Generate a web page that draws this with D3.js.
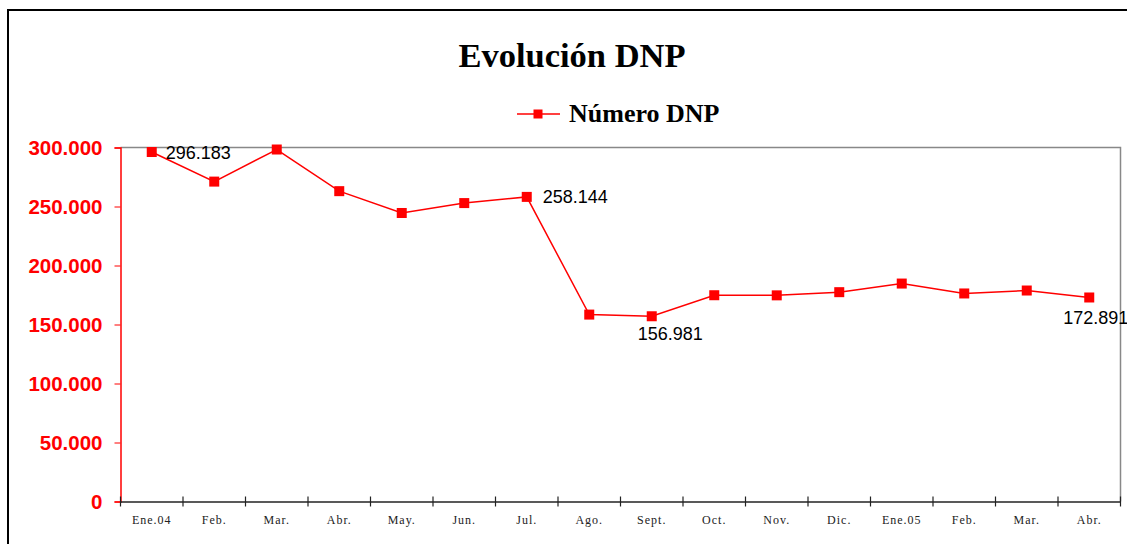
<!DOCTYPE html>
<html>
<head>
<meta charset="utf-8">
<script src="https://cdn.jsdelivr.net/npm/d3@7"></script>
<style>
  body { margin: 0; background: #fff; overflow: hidden; }
</style>
</head>
<body>
<script>
// months shown on the x axis
var months = ["Ene.04", "Feb.", "Mar.", "Abr.", "May.", "Jun.", "Jul.", "Ago.",
              "Sept.", "Oct.", "Nov.", "Dic.", "Ene.05", "Feb.", "Mar.", "Abr."];
// Número DNP (labelled ones are exact)
var dnpValues = [296183, 271100, 298300, 263000, 244500, 252900, 258144, 158400,
                 156981, 174800, 174700, 177400, 184700, 176300, 178800, 172891];
// which points carry a data label
var labelIndex = [0, 6, 8, 15];
var yTicks = [0, 50000, 100000, 150000, 200000, 250000, 300000];

var svg = d3.select("body").append("svg")
    .attr("width", 1127)
    .attr("height", 544);

// outer chart border (runs off the picture on the right and bottom)
svg.append("rect")
    .attr("x", 8).attr("y", 10)
    .attr("width", 1140).attr("height", 560)
    .attr("fill", "#fff")
    .attr("stroke", "#000")
    .attr("stroke-width", 2);

var plotL = 120.5, plotR = 1120.5, plotT = 147.5, plotB = 501.5;

var x = d3.scaleBand()
    .domain(d3.range(months.length))
    .range([plotL, plotR]);

var y = d3.scaleLinear()
    .domain([0, 300000])
    .range([plotB, plotT]);

// plot area frame (gray top and right)
svg.append("path")
    .attr("d", "M" + plotL + "," + plotT + "H" + plotR + "V" + plotB)
    .attr("fill", "none")
    .attr("stroke", "#888")
    .attr("stroke-width", 1.5);

// title
svg.append("text")
    .attr("x", 572).attr("y", 67)
    .attr("text-anchor", "middle")
    .style("font-family", "'Liberation Serif', 'Times New Roman', serif")
    .style("font-weight", "bold")
    .style("font-size", "34.5px")
    .text("Evolución DNP");

// legend
var legend = svg.append("g");
legend.append("line")
    .attr("x1", 517).attr("x2", 560)
    .attr("y1", 114).attr("y2", 114)
    .style("stroke", "red")
    .style("stroke-width", 1.5);
legend.append("rect")
    .attr("x", 533.5).attr("y", 109.5)
    .attr("width", 9).attr("height", 9)
    .attr("fill", "red");
legend.append("text")
    .attr("x", 569).attr("y", 122)
    .style("font-family", "'Liberation Serif', 'Times New Roman', serif")
    .style("font-weight", "bold")
    .style("font-size", "26px")
    .text("Número DNP");

// y axis
var yAxis = d3.axisLeft(y)
    .tickValues(yTicks)
    .tickSize(6)
    .tickPadding(12)
    .tickFormat(function (d) {
        return d === 0 ? "0" : d3.format(",")(d).replace(/,/g, ".");
    });
var yAxisGroup = svg.append("g")
    .attr("transform", "translate(" + plotL + ",0)")
    .call(yAxis);
yAxisGroup.select(".domain").attr("stroke", "red").attr("stroke-width", 1.5);
yAxisGroup.selectAll(".tick line").attr("stroke", "red");
yAxisGroup.selectAll(".tick text")
    .attr("fill", "red")
    .attr("dy", "0.35em")
    .style("font-family", "'Liberation Sans', Arial, sans-serif")
    .style("font-weight", "bold")
    .style("font-size", "20.5px");

// x axis: ticks between categories
var xAxis = d3.axisBottom(x)
    .tickFormat(function (i) { return months[i]; })
    .tickSize(0)
    .tickPadding(14);
var xAxisGroup = svg.append("g")
    .attr("transform", "translate(0," + plotB + ")")
    .call(xAxis);
xAxisGroup.select(".domain").attr("stroke", "#222").attr("stroke-width", 1.5);
xAxisGroup.selectAll(".tick text")
    .attr("fill", "#222")
    .style("font-family", "'Liberation Serif', 'Times New Roman', serif")
    .style("font-size", "12px")
    .style("letter-spacing", "1px");

svg.append("g").selectAll("line")
    .data(d3.range(months.length + 1))
    .enter()
    .append("line")
    .attr("x1", function (i) { return plotL + i * x.step(); })
    .attr("x2", function (i) { return plotL + i * x.step(); })
    .attr("y1", plotB - 5)
    .attr("y2", plotB + 5)
    .attr("stroke", "#222")
    .attr("stroke-width", 1.2);

// the series
var cx = function (d, i) { return x(i) + x.bandwidth() / 2; };

svg.append("path")
    .datum(dnpValues)
    .attr("fill", "none")
    .attr("stroke", "red")
    .attr("stroke-width", 1.5)
    .attr("d", d3.line()
        .x(cx)
        .y(function (d) { return y(d); }));

svg.selectAll("rect.pt")
    .data(dnpValues)
    .enter()
    .append("rect")
    .attr("class", "pt")
    .attr("x", function (d, i) { return cx(d, i) - 5; })
    .attr("y", function (d) { return y(d) - 5; })
    .attr("width", 10)
    .attr("height", 10)
    .attr("fill", "red");

// data labels
var labelPos = { 0: [14, 7], 6: [16, 6], 8: [-14, 24], 15: [-26, 27] };
svg.selectAll("text.lbl")
    .data(labelIndex)
    .enter()
    .append("text")
    .attr("class", "lbl")
    .attr("x", function (i) { return cx(dnpValues[i], i) + labelPos[i][0]; })
    .attr("y", function (i) { return y(dnpValues[i]) + labelPos[i][1]; })
    .style("font-family", "'Liberation Sans', Arial, sans-serif")
    .style("font-size", "18px")
    .text(function (i) { return d3.format(",")(dnpValues[i]).replace(/,/g, "."); });
</script>
</body>
</html>
